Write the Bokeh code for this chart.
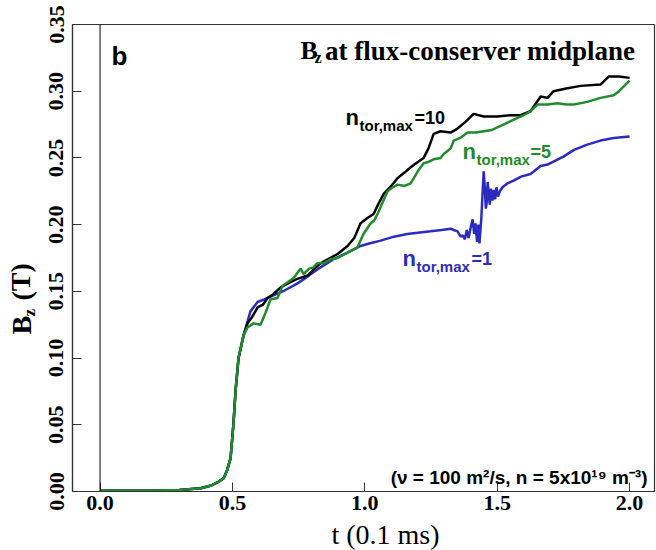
from bokeh.plotting import figure
from bokeh.layouts import row, column
from bokeh.models import Label, Span, Range1d, FixedTicker, NumeralTickFormatter
from bokeh.embed import file_html
from bokeh.resources import INLINE

# ---- data ----
t_rise = [0.0, 0.10, 0.20, 0.30, 0.38, 0.42, 0.445, 0.467, 0.480, 0.493, 0.504, 0.512, 0.523, 0.542]
b_rise = [0.0005, 0.0006, 0.0008, 0.0012, 0.0025, 0.0045, 0.0070, 0.0100, 0.0160, 0.0250, 0.0510, 0.0760, 0.1000, 0.1170]

t_n1 = t_rise + [0.568, 0.595, 0.620, 0.655, 0.700, 0.746, 0.790, 0.833, 0.880, 0.935, 0.984, 1.020,
                 1.060, 1.110, 1.160, 1.200, 1.248, 1.290, 1.324, 1.336, 1.350, 1.362, 1.370, 1.378,
                 1.385, 1.392, 1.400, 1.407, 1.413, 1.418, 1.424, 1.429, 1.433, 1.440, 1.445, 1.449,
                 1.453, 1.457, 1.460, 1.464, 1.468, 1.472, 1.476, 1.482, 1.487, 1.492, 1.497, 1.503,
                 1.510, 1.520, 1.539, 1.562, 1.590, 1.626, 1.664, 1.690, 1.720, 1.750, 1.790, 1.840,
                 1.890, 1.940, 2.000]
b_n1 = b_rise + [0.135, 0.142, 0.144, 0.147, 0.151, 0.156, 0.162, 0.168, 0.174, 0.179, 0.184, 0.186,
                 0.188, 0.191, 0.193, 0.194, 0.195, 0.196, 0.197, 0.196, 0.195, 0.191, 0.192, 0.189,
                 0.196, 0.190, 0.198, 0.204, 0.193, 0.201, 0.187, 0.200, 0.186, 0.205, 0.225, 0.240,
                 0.228, 0.212, 0.216, 0.232, 0.222, 0.215, 0.227, 0.218, 0.226, 0.219, 0.228, 0.221,
                 0.225, 0.228, 0.231, 0.233, 0.236, 0.238, 0.244, 0.245, 0.248, 0.251, 0.256, 0.260,
                 0.263, 0.265, 0.266]

t_n5 = t_rise + [0.557, 0.580, 0.606, 0.625, 0.644, 0.670, 0.689, 0.710, 0.731, 0.757, 0.769, 0.790,
                 0.806, 0.820, 0.844, 0.870, 0.897, 0.935, 0.972, 0.995, 1.022, 1.035, 1.048, 1.070,
                 1.086, 1.105, 1.124, 1.150, 1.173, 1.200, 1.222, 1.240, 1.260, 1.286, 1.298, 1.324,
                 1.336, 1.360, 1.388, 1.420, 1.449, 1.480, 1.513, 1.545, 1.577, 1.600, 1.626, 1.652,
                 1.690, 1.728, 1.760, 1.790, 1.840, 1.890, 1.940, 1.960, 1.975, 2.000]
b_n5 = b_rise + [0.123, 0.126, 0.125, 0.134, 0.144, 0.145, 0.154, 0.157, 0.160, 0.167, 0.163, 0.167,
                 0.168, 0.171, 0.171, 0.174, 0.175, 0.179, 0.183, 0.193, 0.201, 0.203, 0.208, 0.218,
                 0.225, 0.228, 0.230, 0.229, 0.231, 0.240, 0.246, 0.247, 0.249, 0.250, 0.253, 0.257,
                 0.263, 0.265, 0.269, 0.269, 0.270, 0.271, 0.274, 0.277, 0.280, 0.282, 0.285, 0.290,
                 0.290, 0.291, 0.290, 0.290, 0.292, 0.295, 0.297, 0.300, 0.303, 0.308]

t_n10 = t_rise + [0.557, 0.575, 0.595, 0.615, 0.633, 0.655, 0.682, 0.710, 0.740, 0.784, 0.810, 0.833,
                  0.860, 0.897, 0.935, 0.960, 0.984, 1.010, 1.033, 1.050, 1.071, 1.100, 1.124, 1.150,
                  1.173, 1.200, 1.222, 1.240, 1.260, 1.286, 1.324, 1.350, 1.380, 1.411, 1.449, 1.500,
                  1.550, 1.588, 1.626, 1.664, 1.690, 1.713, 1.760, 1.815, 1.890, 1.921, 1.960, 2.000]
b_n10 = b_rise + [0.126, 0.131, 0.138, 0.140, 0.145, 0.148, 0.153, 0.156, 0.159, 0.162, 0.167, 0.171,
                  0.174, 0.178, 0.184, 0.190, 0.201, 0.205, 0.208, 0.215, 0.223, 0.229, 0.235, 0.239,
                  0.243, 0.247, 0.250, 0.257, 0.268, 0.270, 0.269, 0.272, 0.277, 0.283, 0.281, 0.281,
                  0.282, 0.282, 0.285, 0.296, 0.295, 0.300, 0.302, 0.304, 0.305, 0.311, 0.311, 0.310]

x_ticks = [0.0, 0.5, 1.0, 1.5, 2.0]
y_ticks = [0.0, 0.05, 0.10, 0.15, 0.20, 0.25, 0.30, 0.35]

BLACK = "#000000"
GREEN = "#1f8b2c"
BLUE = "#2b2bbf"
SERIF = "Liberation Serif"
SANS = "Liberation Sans"

W, H = 656, 550
YL_W = 38          # strip holding the y-axis title
XL_H = 30          # strip holding the x-axis title
FL, FB = 72, 491   # frame left / bottom in page pixels

MAIN_W, MAIN_H = W - YL_W, H - XL_H

p = figure(width=MAIN_W, height=MAIN_H, output_backend="svg", toolbar_location=None,
           x_range=Range1d(-0.104, 2.094), y_range=Range1d(0, 0.35),
           min_border_left=FL - YL_W, min_border_right=2, min_border_top=24,
           min_border_bottom=MAIN_H - FB)

p.grid.visible = False
p.background_fill_color = "white"
p.border_fill_color = "white"
p.outline_line_color = "#333333"
p.outline_line_width = 1.2

for ax in (p.xaxis[0], p.yaxis[0]):
    ax.axis_line_color = "#333333"
    ax.axis_line_width = 1.2
    ax.major_tick_line_color = "#333333"
    ax.major_tick_in = 9
    ax.major_tick_out = 0
    ax.minor_tick_line_color = None
    ax.major_label_text_font = SERIF
    ax.major_label_text_font_style = "bold"
    ax.major_label_text_font_size = "22px"
    ax.major_label_text_color = "black"

p.xaxis.ticker = FixedTicker(ticks=x_ticks)
p.yaxis.ticker = FixedTicker(ticks=y_ticks)
p.xaxis.formatter = NumeralTickFormatter(format="0.0")
p.yaxis.formatter = NumeralTickFormatter(format="0.00")
p.xaxis.major_label_standoff = 4
p.yaxis.major_label_standoff = 9
p.yaxis.major_label_orientation = "parallel"

p.add_layout(Span(location=0, dimension="height", line_color="black", line_width=1))

p.line(t_n1, b_n1, line_color=BLUE, line_width=2.5)
p.line(t_n10, b_n10, line_color=BLACK, line_width=2.5)
p.line(t_n5, b_n5, line_color=GREEN, line_width=2.5)


def lab(text, x, y, size, color="black", font=SANS, style="bold", align="left"):
    p.add_layout(Label(x=x - FL, y=FB - y, x_units="screen", y_units="screen", text=text,
                       text_font=font, text_font_style=style, text_font_size=f"{size}px",
                       text_color=color, text_align=align, text_baseline="alphabetic"))


# panel letter and title
lab("b", 111, 55, 26)
lab("B", 300, 50, 26, font=SERIF)
lab("z", 314, 57, 16, font=SERIF)
lab("at flux-conserver midplane", 635, 50, 27, font=SERIF, align="right")

# curve labels
lab("n", 345, 117, 22)
lab("tor,max", 359, 125, 15)
lab("=10", 414, 117, 18)

lab("n", 462, 151, 22, color=GREEN)
lab("tor,max", 476, 159, 15, color=GREEN)
lab("=5", 530, 151, 18, color=GREEN)

lab("n", 402, 258, 22, color=BLUE)
lab("tor,max", 416, 266, 15, color=BLUE)
lab("=1", 471, 258, 18, color=BLUE)

# parameters note
lab("(\u03bd = 100 m\u00b2/s, n = 5x10\u00b9\u2079 m\u207b\u00b3)", 647, 477, 19, align="right")


def strip(width, height):
    f = figure(width=width, height=height, output_backend="svg", toolbar_location=None,
               x_range=Range1d(0, width), y_range=Range1d(0, height),
               x_axis_type=None, y_axis_type=None, min_border=0,
               min_border_left=0, min_border_right=0, min_border_top=0, min_border_bottom=0)
    f.grid.visible = False
    f.outline_line_color = None
    f.background_fill_color = "white"
    f.border_fill_color = "white"
    return f


# y-axis title strip: its frame is aligned with the main frame (page y 24..491)
yl = strip(YL_W, MAIN_H)


def ylab(text, x_bottom, y_start, size):
    yl.add_layout(Label(x=x_bottom, y=FB - y_start, x_units="screen", y_units="screen",
                        text=text, text_font=SERIF, text_font_style="bold",
                        text_font_size=f"{size}px", text_color="black",
                        text_align="left", text_baseline="bottom", angle=1.5708))


ylab("B", 36, 334, 28)
ylab("z", 38, 316, 17)
ylab("(T)", 36, 300, 28)

# x-axis title strip (page y 520..550)
xl = strip(W, XL_H)
xl.add_layout(Label(x=385, y=1, x_units="screen", y_units="screen", text="t (0.1 ms)",
                    text_font=SERIF, text_font_style="normal", text_font_size="28px",
                    text_color="black", text_align="center", text_baseline="bottom"))

layout = column(row(yl, p, spacing=0), xl, spacing=0)

open("out.html", "w").write(file_html(layout, INLINE))
